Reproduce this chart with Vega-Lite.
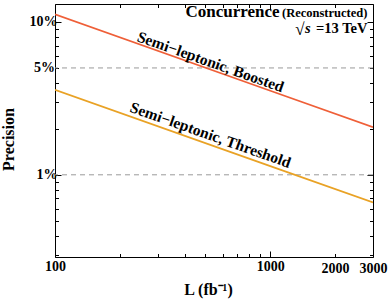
{
  "$schema": "https://vega.github.io/schema/vega-lite/v6.json",
  "width": 318,
  "height": 253,
  "autosize": {"type": "none"},
  "padding": {"left": 55, "top": 4, "right": 17, "bottom": 48},
  "background": "white",
  "config": {
    "view": {"stroke": "black", "strokeWidth": 1},
    "font": "Liberation Serif",
    "axis": {
      "labelFont": "Liberation Serif",
      "labelFontWeight": "bold",
      "labelFontSize": 14,
      "labelColor": "black",
      "titleFont": "Liberation Serif",
      "titleFontWeight": "bold",
      "titleFontSize": 16,
      "titleColor": "black",
      "tickColor": "black",
      "tickWidth": 1,
      "domain": false,
      "grid": false,
      "labelOverlap": false,
      "labelFlush": false
    }
  },
  "resolve": {"axis": {"x": "independent", "y": "independent"}},
  "layer": [
    {
      "data": {"values": [{"p": 0.01}, {"p": 0.05}]},
      "mark": {"type": "rule", "color": "#9a9a9a", "strokeDash": [5, 4], "strokeWidth": 1},
      "encoding": {
        "y": {"field": "p", "type": "quantitative", "scale": {"type": "log", "domain": [0.0029, 0.131], "nice": false}, "axis": null}
      }
    },
    {
      "data": {"values": [
        {"series": "Boosted", "L": 100, "precision": 0.112},
        {"series": "Boosted", "L": 1000, "precision": 0.0355},
        {"series": "Boosted", "L": 3000, "precision": 0.0205},
        {"series": "Threshold", "L": 100, "precision": 0.036},
        {"series": "Threshold", "L": 1000, "precision": 0.0114},
        {"series": "Threshold", "L": 3000, "precision": 0.0066}
      ]},
      "mark": {"type": "line", "strokeWidth": 1.7, "clip": true},
      "encoding": {
        "x": {"field": "L", "type": "quantitative",
          "scale": {"type": "log", "domain": [100, 3000], "nice": false},
          "axis": {"orient": "bottom",
            "values": [100, 200, 300, 400, 500, 600, 700, 800, 900, 1000, 2000, 3000],
            "format": "d",
            "labelExpr": "(datum.value==100||datum.value==1000||datum.value==2000||datum.value==3000) ? datum.label : ''",
            "tickSize": {"condition": {"test": "datum.value==100||datum.value==1000", "value": -6}, "value": -3.5},
            "labelPadding": 8,
            "title": "L (fb⁻¹)",
            "titleX": 153,
            "titleY": 24,
            "titleBaseline": "top"}},
        "y": {"field": "precision", "type": "quantitative",
          "scale": {"type": "log", "domain": [0.0029, 0.131], "nice": false},
          "axis": {"orient": "left",
            "values": [0.003, 0.004, 0.005, 0.006, 0.007, 0.008, 0.009, 0.01, 0.02, 0.03, 0.04, 0.05, 0.06, 0.07, 0.08, 0.09, 0.1],
            "labelExpr": "datum.value==0.01 ? '1%' : datum.value==0.05 ? '5%' : datum.value==0.1 ? '10%' : ''",
            "tickSize": {"condition": {"test": "datum.value==0.01||datum.value==0.1", "value": -6}, "value": -3.5},
            "labelPadding": 4,
            "title": "Precision",
            "titleFontSize": 16,
            "titleX": -42,
            "titleY": 135,
            "titleBaseline": "alphabetic"}},
        "color": {"field": "series", "type": "nominal",
          "scale": {"domain": ["Boosted", "Threshold"], "range": ["#EF5F38", "#E9A225"]},
          "legend": null}
      }
    },
    {
      "data": {"values": [
        {"text": "Semi−leptonic, Boosted", "L": 528, "precision": 0.0547},
        {"text": "Semi−leptonic, Threshold", "L": 528, "precision": 0.0182}
      ]},
      "mark": {"type": "text", "angle": 19.5, "font": "Liberation Serif", "fontWeight": "bold", "fontSize": 15.5, "color": "black", "align": "center", "baseline": "middle"},
      "encoding": {
        "x": {"field": "L", "type": "quantitative",
          "axis": {"orient": "top", "labels": false, "title": null,
            "values": [100, 200, 300, 400, 500, 600, 700, 800, 900, 1000, 2000, 3000],
            "tickSize": {"condition": {"test": "datum.value==100||datum.value==1000", "value": -6}, "value": -3.5}}},
        "y": {"field": "precision", "type": "quantitative",
          "axis": {"orient": "right", "labels": false, "title": null,
            "values": [0.003, 0.004, 0.005, 0.006, 0.007, 0.008, 0.009, 0.01, 0.02, 0.03, 0.04, 0.05, 0.06, 0.07, 0.08, 0.09, 0.1],
            "tickSize": {"condition": {"test": "datum.value==0.01||datum.value==0.1", "value": -6}, "value": -3.5}}},
        "text": {"field": "text"}
      }
    },
    {
      "data": {"values": [{"text": "Concurrence", "L": 1104, "precision": 0.107}]},
      "mark": {"type": "text", "font": "Liberation Serif", "fontWeight": "bold", "fontSize": 17, "color": "black", "align": "right", "baseline": "alphabetic"},
      "encoding": {
        "x": {"field": "L", "type": "quantitative", "axis": null},
        "y": {"field": "precision", "type": "quantitative", "axis": null},
        "text": {"field": "text"}
      }
    },
    {
      "data": {"values": [{"text": "(Reconstructed)", "L": 2825, "precision": 0.107}]},
      "mark": {"type": "text", "font": "Liberation Serif", "fontWeight": "bold", "fontSize": 12.5, "color": "black", "align": "right", "baseline": "alphabetic"},
      "encoding": {
        "x": {"field": "L", "type": "quantitative", "axis": null},
        "y": {"field": "precision", "type": "quantitative", "axis": null},
        "text": {"field": "text"}
      }
    },
    {
      "data": {"values": [{"text": "√", "L": 1442, "precision": 0.0822}]},
      "mark": {"type": "text", "font": "Liberation Serif", "fontSize": 17, "color": "black", "align": "right", "baseline": "alphabetic"},
      "encoding": {
        "x": {"field": "L", "type": "quantitative", "axis": null},
        "y": {"field": "precision", "type": "quantitative", "axis": null},
        "text": {"field": "text"}
      }
    },
    {
      "data": {"values": [{"text": "s", "L": 1538, "precision": 0.0847}]},
      "mark": {"type": "text", "font": "Liberation Serif", "fontWeight": "bold", "fontStyle": "italic", "fontSize": 14.5, "color": "black", "align": "right", "baseline": "alphabetic"},
      "encoding": {
        "x": {"field": "L", "type": "quantitative", "axis": null},
        "y": {"field": "precision", "type": "quantitative", "axis": null},
        "text": {"field": "text"}
      }
    },
    {
      "data": {"values": [{"text": "=13 TeV", "L": 2825, "precision": 0.0847}]},
      "mark": {"type": "text", "font": "Liberation Serif", "fontWeight": "bold", "fontSize": 14.5, "color": "black", "align": "right", "baseline": "alphabetic"},
      "encoding": {
        "x": {"field": "L", "type": "quantitative", "axis": null},
        "y": {"field": "precision", "type": "quantitative", "axis": null},
        "text": {"field": "text"}
      }
    }
  ]
}
